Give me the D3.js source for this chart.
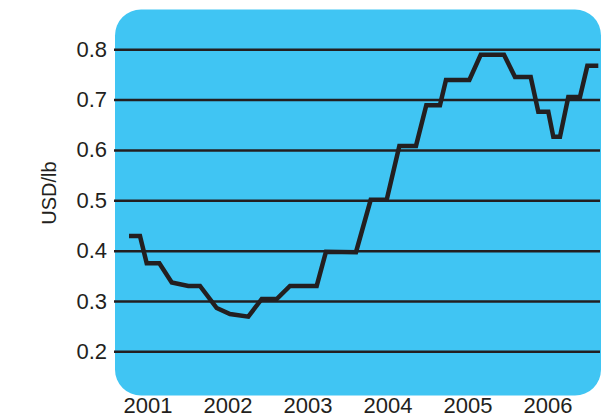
<!DOCTYPE html>
<html>
<head>
<meta charset="utf-8">
<script src="https://cdn.jsdelivr.net/npm/d3@7/dist/d3.min.js"></script>
<style>
  html, body { margin: 0; padding: 0; background: #ffffff; }
  svg { display: block; }
  text { font-family: "Liberation Sans", Arial, sans-serif; fill: #231f20; }
</style>
</head>
<body>
<svg id="chart" width="605" height="418"></svg>
<script>
// ---- data (decimal year, USD/lb) ----
const times = [2000.769, 2000.906, 2000.990, 2001.148, 2001.303, 2001.510, 2001.656, 2001.865,
  2002.031, 2002.260, 2002.428, 2002.615, 2002.781, 2003.115, 2003.231, 2003.606,
  2003.790, 2003.990, 2004.148, 2004.356, 2004.485, 2004.656, 2004.731, 2005.023,
  2005.165, 2005.456, 2005.594, 2005.790, 2005.885, 2006.010, 2006.073, 2006.156,
  2006.260, 2006.406, 2006.498, 2006.635];
const prices = [0.429, 0.429, 0.375, 0.375, 0.337, 0.330, 0.330, 0.286,
  0.274, 0.269, 0.304, 0.304, 0.330, 0.330, 0.398, 0.397,
  0.501, 0.501, 0.608, 0.608, 0.689, 0.689, 0.739, 0.739,
  0.789, 0.789, 0.745, 0.745, 0.676, 0.676, 0.626, 0.626,
  0.705, 0.705, 0.767, 0.767];
const yTicks = [0.2, 0.3, 0.4, 0.5, 0.6, 0.7, 0.8];
const xTickYears = [2001, 2002, 2003, 2004, 2005, 2006];
const yLabel = "USD/lb";

// ---- layout ----
const svg = d3.select("#chart");
const ink = "#231f20";
const panel = { x: 115, y: 9.5, w: 486, h: 386, r: 26 };
const gridLeft = 114, gridRight = 600;

const x = d3.scaleLinear().domain([2001, 2006]).range([147.5, 547.5]);
const y = d3.scaleLinear().domain([0.5, 0.8]).range([200.3, 49.25]);

svg.append("rect")
  .attr("x", panel.x).attr("y", panel.y)
  .attr("width", panel.w).attr("height", panel.h)
  .attr("rx", panel.r).attr("ry", panel.r)
  .attr("fill", "#40c5f3");

// y axis with gridlines
const yAxis = d3.axisLeft(y)
  .tickValues(yTicks)
  .tickFormat(d3.format(".1f"))
  .tickSize(-(gridRight - gridLeft))
  .tickPadding(7);
const gy = svg.append("g").attr("transform", `translate(${gridLeft},0)`).call(yAxis);
gy.select(".domain").remove();
gy.selectAll(".tick line").attr("stroke", ink).attr("stroke-width", 2.5);
gy.selectAll(".tick text")
  .attr("font-size", 22)
  .attr("fill", ink)
  .attr("dy", "0.32em");

// x axis labels
const xAxis = d3.axisBottom(x)
  .tickValues(xTickYears)
  .tickFormat(d3.format("d"))
  .tickSize(0);
const gx = svg.append("g").attr("transform", "translate(0,413)").call(xAxis);
gx.select(".domain").remove();
gx.selectAll(".tick text")
  .attr("font-size", 22)
  .attr("fill", ink)
  .attr("y", 0)
  .attr("dy", 0);

// y label
svg.append("text")
  .attr("transform", "translate(56,193) rotate(-90)")
  .attr("text-anchor", "middle")
  .attr("font-size", 20)
  .text(yLabel);

// price line
const line = d3.line().x((d, i) => x(times[i])).y(d => y(d));
svg.append("path")
  .datum(prices)
  .attr("d", line)
  .attr("fill", "none")
  .attr("stroke", ink)
  .attr("stroke-width", 4.5)
  .attr("stroke-linejoin", "miter")
  .attr("stroke-linecap", "butt");
</script>
</body>
</html>
